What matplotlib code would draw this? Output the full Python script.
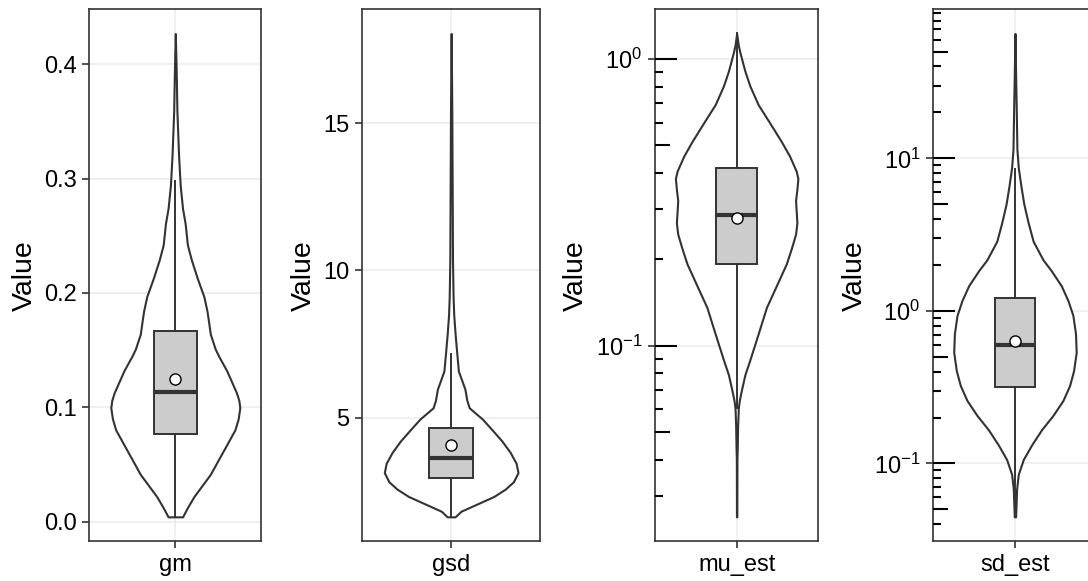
import numpy as np
import matplotlib
matplotlib.use("Agg")
import matplotlib.pyplot as plt
from matplotlib.transforms import blended_transform_factory
from matplotlib.ticker import FixedLocator, FixedFormatter, NullLocator

plt.rcParams['font.family'] = ['Liberation Sans', 'DejaVu Sans']
plt.rcParams['mathtext.fontset'] = 'custom'
plt.rcParams['mathtext.rm'] = 'Liberation Sans'
plt.rcParams['mathtext.default'] = 'regular'

# ---------------- data ----------------
categories = ["gm", "gsd", "mu_est", "sd_est"]
log_scale = [False, False, True, True]

# violin outlines: y positions and relative half-widths (1 = widest)
gm_violin_y = [0.0042, 0.0123, 0.022, 0.0414, 0.0544, 0.0673, 0.0803, 0.090, 0.0997, 0.106,
               0.1126, 0.1223, 0.132, 0.145, 0.151, 0.164, 0.174, 0.184, 0.197, 0.213,
               0.229, 0.242, 0.261, 0.274, 0.294, 0.320, 0.359, 0.391, 0.427]
gm_violin_w = [0.112, 0.188, 0.289, 0.543, 0.670, 0.797, 0.924, 0.975, 1.0, 0.985,
               0.949, 0.873, 0.797, 0.670, 0.619, 0.543, 0.518, 0.492, 0.442, 0.340,
               0.249, 0.188, 0.152, 0.112, 0.076, 0.051, 0.025, 0.015, 0.0]

gsd_violin_y = [1.64, 1.83, 2.08, 2.33, 2.58, 2.83, 3.14, 3.46, 3.83, 4.21, 4.59, 4.96,
                5.34, 5.59, 5.97, 6.59, 7.22, 7.85, 8.48, 9.10, 10.36, 12.87, 15.38, 18.04]
gsd_violin_w = [0.059, 0.147, 0.392, 0.637, 0.809, 0.931, 1.0, 0.971, 0.882, 0.760, 0.613, 0.466,
                0.270, 0.235, 0.206, 0.108, 0.083, 0.059, 0.039, 0.029, 0.020, 0.015, 0.010, 0.0]

mu_violin_y = [0.0253, 0.0401, 0.0451, 0.0524, 0.0607, 0.0644, 0.0705, 0.0793, 0.0893, 0.110,
               0.136, 0.162, 0.193, 0.218, 0.245, 0.268, 0.293, 0.321, 0.351, 0.383,
               0.406, 0.458, 0.515, 0.598, 0.693, 0.805, 0.906, 1.052, 1.117, 1.227]
mu_violin_w = [0.003, 0.005, 0.011, 0.016, 0.027, 0.043, 0.081, 0.135, 0.216, 0.351,
               0.486, 0.649, 0.811, 0.892, 0.962, 0.984, 0.973, 0.962, 0.984, 1.0,
               0.973, 0.865, 0.730, 0.541, 0.351, 0.216, 0.135, 0.054, 0.027, 0.0]

sd_violin_y = [0.0447, 0.0679, 0.0848, 0.106, 0.132, 0.166, 0.207, 0.259, 0.324, 0.405,
               0.535, 0.708, 0.935, 1.17, 1.46, 1.83, 2.16, 2.86, 3.78, 4.99,
               6.59, 8.73, 11.5, 20.1, 35.2, 65.8]
sd_violin_w = [0.011, 0.027, 0.054, 0.135, 0.270, 0.432, 0.622, 0.784, 0.892, 0.957,
               1.0, 0.989, 0.946, 0.865, 0.757, 0.595, 0.459, 0.297, 0.216, 0.146,
               0.097, 0.054, 0.032, 0.022, 0.011, 0.0]

# box statistics: q1, median, q3, lower whisker, upper whisker, mean
box_q1 = [0.0767, 2.95, 0.192, 0.318]
box_med = [0.113, 3.64, 0.285, 0.600]
box_q3 = [0.1667, 4.65, 0.416, 1.22]
box_whislo = [0.0042, 1.64, 0.0607, 0.0447]
box_whishi = [0.298, 7.16, 1.227, 8.5]
box_mean = [0.125, 4.08, 0.278, 0.637]

# y tick values and labels
yticks = [[0.0, 0.1, 0.2, 0.3, 0.4], [5, 10, 15], [0.1, 1.0], [0.1, 1.0, 10.0]]
yticklabels = [["0.0", "0.1", "0.2", "0.3", "0.4"], ["5", "10", "15"],
               [r"$10^{-1}$", r"$10^{0}$"], [r"$10^{-1}$", r"$10^{0}$", r"$10^{1}$"]]
y_title = "Value"

violins = [(gm_violin_y, gm_violin_w), (gsd_violin_y, gsd_violin_w),
           (mu_violin_y, mu_violin_w), (sd_violin_y, sd_violin_w)]

# ---------------- layout ----------------
W, H = 1088, 581
fig = plt.figure(figsize=(W / 100, H / 100), dpi=100)
fig.patch.set_facecolor("white")

panel_left_px = [89.3, 362.0, 655.0, 933.3]
panel_width_px = [172.0, 178.3, 163.3, 163.3]
bottom_px, top_px = 541.0, 9.3

dark = "#333333"
grid_c = "#EBEBEB"

for i, name in enumerate(categories):
    l = panel_left_px[i] / W
    b = (H - bottom_px) / H
    w = panel_width_px[i] / W
    h = (bottom_px - top_px) / H
    ax = fig.add_axes([l, b, w, h])
    ax.set_facecolor("white")
    vy, vw = violins[i]
    vy = np.asarray(vy, dtype=float)
    vw = np.asarray(vw, dtype=float)

    if log_scale[i]:
        ax.set_yscale("log")
        lo, hi = np.log10(vy.min()), np.log10(vy.max())
        span = hi - lo
        ax.set_ylim(10 ** (lo - 0.05 * span), 10 ** (hi + 0.05 * span))
    else:
        lo, hi = vy.min(), vy.max()
        span = hi - lo
        ax.set_ylim(lo - 0.05 * span, hi + 0.05 * span)
    ax.set_xlim(0.4, 1.6)

    # grid
    ax.set_axisbelow(True)
    ax.grid(True, which="major", color=grid_c, lw=1.1)

    # violin
    ax.fill_betweenx(vy, 1 - 0.45 * vw, 1 + 0.45 * vw, facecolor="white",
                     edgecolor=dark, lw=1.5, zorder=2)

    # box
    stats = [dict(med=box_med[i], q1=box_q1[i], q3=box_q3[i],
                  whislo=box_whislo[i], whishi=box_whishi[i], mean=box_mean[i],
                  fliers=[])]
    ax.bxp(stats, positions=[1], widths=0.3, patch_artist=True, showcaps=False,
           showmeans=True, showfliers=False, manage_ticks=False,
           boxprops=dict(facecolor="#CCCCCC", edgecolor=dark, lw=1.4),
           whiskerprops=dict(color=dark, lw=1.4),
           medianprops=dict(color=dark, lw=3.0, solid_capstyle="butt"),
           meanprops=dict(marker="o", markerfacecolor="white", markeredgecolor="black",
                          markersize=8, markeredgewidth=1.0),
           zorder=3)

    # axes styling
    for s in ax.spines.values():
        s.set_color(dark)
        s.set_linewidth(1.2)
    ax.yaxis.set_major_locator(FixedLocator(yticks[i]))
    ax.yaxis.set_major_formatter(FixedFormatter(yticklabels[i]))
    ax.yaxis.set_minor_locator(NullLocator())
    ax.set_xticks([1])
    ax.set_xticklabels([name])
    ax.tick_params(axis="both", which="major", length=4.8, width=1.2, color=dark,
                   labelsize=17, labelcolor="black", pad=4.5)
    ax.set_ylabel(y_title, fontsize=20.5, labelpad=4.5, color="black")

    # log ticks drawn inside the panel (like annotation_logticks)
    if log_scale[i]:
        tr = blended_transform_factory(ax.transAxes, ax.transData)
        y0, y1 = ax.get_ylim()
        kmin = int(np.floor(np.log10(y0)))
        kmax = int(np.ceil(np.log10(y1)))
        for k in range(kmin, kmax + 1):
            for m in range(1, 10):
                v = m * 10.0 ** k
                if y0 <= v <= y1:
                    L = 22.0 if m == 1 else (15.0 if m == 5 else 7.7)
                    ax.plot([0, L / panel_width_px[i]], [v, v], transform=tr,
                            color="black", lw=1.5, solid_capstyle="butt", zorder=4)

fig.savefig("out.png", dpi=100, facecolor="white")
